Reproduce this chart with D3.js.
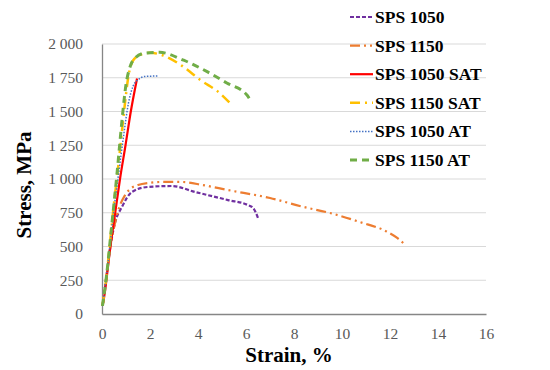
<!DOCTYPE html>
<html>
<head>
<meta charset="utf-8">
<script src="https://cdn.jsdelivr.net/npm/d3@7/dist/d3.min.js"></script>
</head>
<body style="margin:0">
<script>
// tick values
var xTicks = [0, 2, 4, 6, 8, 10, 12, 14, 16]
var yTicks = [0, 250, 500, 750, 1000, 1250, 1500, 1750, 2000]

// series: [strain %, stress MPa]
var sps1050 = [[0.02,60],[0.2,300],[0.35,500],[0.54,674],[0.83,793],[1.25,904],[1.9,941],[2.9,948],[3.88,904],[5.25,844],[6.08,807],[6.3,785],[6.5,711]]
var sps1150 = [[0.02,60],[0.2,300],[0.35,500],[0.5,640],[0.7,780],[0.96,881],[1.2,930],[1.5,955],[2.0,972],[2.5,978],[3.33,978],[4.2,955],[5.25,918],[7.0,859],[8.4,793],[9.5,748],[10.75,681],[11.9,607],[12.3,563],[12.55,526]]
var sps1050sat = [[0.05,80],[0.12,163],[0.35,500],[0.55,750],[0.75,1000],[0.98,1250],[1.2,1500],[1.46,1745]]
var sps1150sat = [[0.02,60],[0.2,300],[0.35,560],[0.5,820],[0.65,1050],[0.8,1300],[0.95,1550],[1.1,1760],[1.3,1880],[1.6,1920],[2.0,1935],[2.55,1915],[3.4,1830],[4.1,1733],[4.9,1637],[5.33,1563]]
var sps1050at = [[0.02,60],[0.2,300],[0.35,540],[0.5,780],[0.7,1050],[0.9,1320],[1.1,1560],[1.3,1690],[1.5,1735],[1.8,1760],[2.33,1763]]
var sps1150at = [[0.02,60],[0.2,300],[0.35,560],[0.5,820],[0.62,1030],[0.75,1280],[0.87,1500],[1.0,1700],[1.15,1820],[1.4,1900],[1.8,1933],[2.4,1938],[3.4,1880],[4.4,1793],[5.2,1711],[6.04,1622],[6.2,1578]]

var names = ['SPS 1050', 'SPS 1150', 'SPS 1050 SAT', 'SPS 1150 SAT', 'SPS 1050 AT', 'SPS 1150 AT']
var values = [sps1050, sps1150, sps1050sat, sps1150sat, sps1050at, sps1150at]

var styles = [
  {color: '#7030a0', width: 2.2, dash: '4,2'},
  {color: '#ed7d31', width: 2.2, dash: '10,4,2,4,2,4'},
  {color: '#ff0000', width: 2.2, dash: null},
  {color: '#ffc000', width: 2.5, dash: '10,5,2,5'},
  {color: '#4472c4', width: 1.5, dash: '1.5,1.5'},
  {color: '#70ad47', width: 3, dash: '7,5'}
]

var W = 550, H = 370
var margin = {left: 102, right: 64, top: 44, bottom: 56}
var width = W - margin.left - margin.right
var height = H - margin.top - margin.bottom

var svg = d3.select('body').append('svg').attr('width', W).attr('height', H)
  .style('display', 'block')
  .attr('font-family', 'Liberation Serif')
var g = svg.append('g').attr('transform', 'translate(' + margin.left + ',' + margin.top + ')')

var x = d3.scaleLinear().domain([0, 16]).range([0, width])
var y = d3.scaleLinear().domain([0, 2000]).range([height, 0])

var fmt = d3.formatLocale({decimal: '.', thousands: ' ', grouping: [3], currency: ['', '']}).format(',')

// gridlines
g.selectAll('line.grid').data(yTicks.slice(1)).enter().append('line')
  .attr('class', 'grid')
  .attr('x1', 0).attr('x2', width)
  .attr('y1', function(d){ return y(d) }).attr('y2', function(d){ return y(d) })
  .attr('stroke', '#d9d9d9').attr('stroke-width', 1)

var yAxis = g.append('g')
  .call(d3.axisLeft(y).tickValues(yTicks).tickFormat(fmt).tickSize(0).tickPadding(19))
var xAxis = g.append('g').attr('transform', 'translate(0,' + height + ')')
  .call(d3.axisBottom(x).tickValues(xTicks).tickSize(0).tickPadding(14))

;[xAxis, yAxis].forEach(function(a){
  a.attr('font-family', 'Liberation Serif').attr('font-size', 15.5)
  a.select('.domain').attr('stroke', '#868686').attr('stroke-width', 1.3)
  a.selectAll('.tick text').attr('fill', '#595959')
})

var line = d3.line()
  .x(function(d){ return x(d[0]) })
  .y(function(d){ return y(d[1]) })
  .curve(d3.curveMonotoneX)

values.forEach(function(v, i){
  var s = styles[i]
  g.append('path')
    .attr('d', line(v))
    .attr('fill', 'none')
    .attr('stroke', s.color)
    .attr('stroke-width', s.width)
    .attr('stroke-dasharray', s.dash)
})

// axis titles
svg.append('text')
  .attr('font-size', 21).attr('font-weight', 'bold')
  .attr('text-anchor', 'middle')
  .attr('x', 289).attr('y', 362)
  .text('Strain, %')

svg.append('text')
  .attr('font-size', 21).attr('font-weight', 'bold')
  .attr('text-anchor', 'middle')
  .attr('transform', 'translate(31,185) rotate(-90)')
  .text('Stress, MPa')

// legend
var leg = svg.append('g')
names.forEach(function(n, i){
  var s = styles[i]
  var ly = 17 + i * 28.6
  leg.append('line')
    .attr('x1', 350).attr('x2', 373).attr('y1', ly).attr('y2', ly)
    .attr('stroke', s.color).attr('stroke-width', s.width)
    .attr('stroke-dasharray', s.dash)
  leg.append('text')
    .attr('font-size', 17.5).attr('font-weight', 'bold')
    .attr('x', 375).attr('y', ly + 6).text(n)
})
</script>
</body>
</html>
